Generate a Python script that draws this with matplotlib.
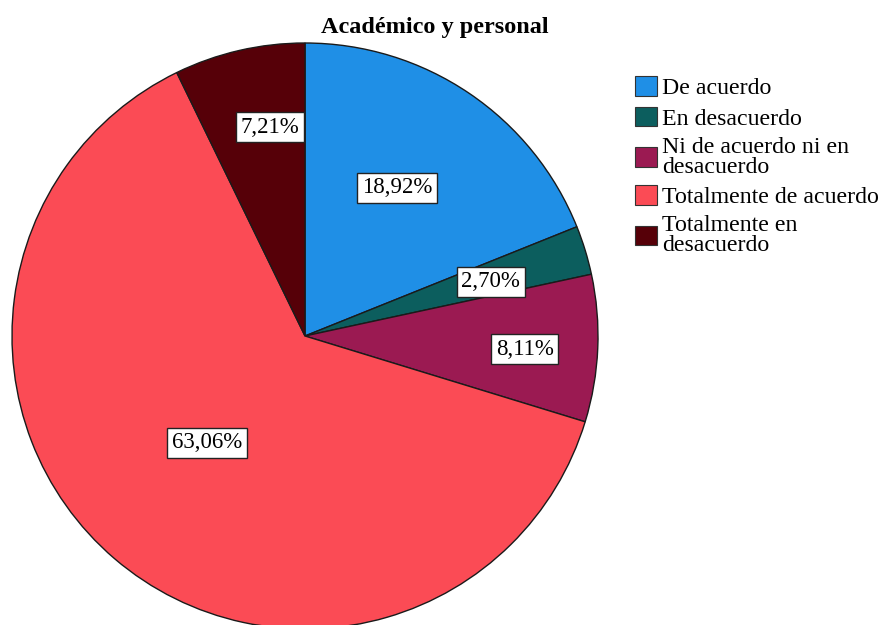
import numpy as np
import matplotlib
matplotlib.use("Agg")
import matplotlib.pyplot as plt
from matplotlib.patches import Patch

plt.rcParams["font.family"] = ["Liberation Serif", "DejaVu Serif"]

categories = ["De acuerdo", "En desacuerdo", "Ni de acuerdo ni en\ndesacuerdo",
              "Totalmente de acuerdo", "Totalmente en\ndesacuerdo"]
values = [18.92, 2.70, 8.11, 63.06, 7.21]
labels = ["18,92%", "2,70%", "8,11%", "63,06%", "7,21%"]
colors = ["#1f8fe6", "#0c5e5e", "#9b1a52", "#fb4b55", "#560008"]
# label placement: radius fraction and angular nudge (deg) per slice
label_r = [0.595, 0.66, 0.752, 0.495, 0.723]
label_dang = [2.2, -0.8, -1.0, -2.0, -3.5]

fig = plt.figure(figsize=(8.83, 6.25), dpi=100)
ax = fig.add_axes([12 / 883, 1 - 629 / 625, 586 / 883, 586 / 625])

wedges, _ = ax.pie(values, colors=colors, startangle=90, counterclock=False,
                   radius=1, wedgeprops=dict(edgecolor="#1a1a1a", linewidth=1))
ax.set_xlim(-1, 1)
ax.set_ylim(-1, 1)
ax.set_aspect("equal")
ax.axis("off")

for w, lab, r, da in zip(wedges, labels, label_r, label_dang):
    ang = np.deg2rad((w.theta1 + w.theta2) / 2 + da)
    ax.text(r * np.cos(ang), r * np.sin(ang), lab, ha="center", va="center",
            fontsize=16.5,
            bbox=dict(boxstyle="square,pad=0.2", facecolor="white",
                      edgecolor="#222222", linewidth=1))

fig.text(435 / 883, 1 - 27 / 625, "Académico y personal", ha="center", va="center",
         fontsize=17.5, fontweight="bold")

handles = [Patch(facecolor=c, edgecolor="#333333", linewidth=0.8) for c in colors]
leg = fig.legend(handles, categories, loc="upper left", bbox_to_anchor=(635 / 883, 1 - 76 / 625),
                 frameon=False, fontsize=17.2, handlelength=0.92, handleheight=0.9,
                 handletextpad=0.2, labelspacing=0.31, borderaxespad=0, borderpad=0)
for t in leg.get_texts():
    t.set_linespacing(0.9)

fig.savefig("out.png", dpi=100)
